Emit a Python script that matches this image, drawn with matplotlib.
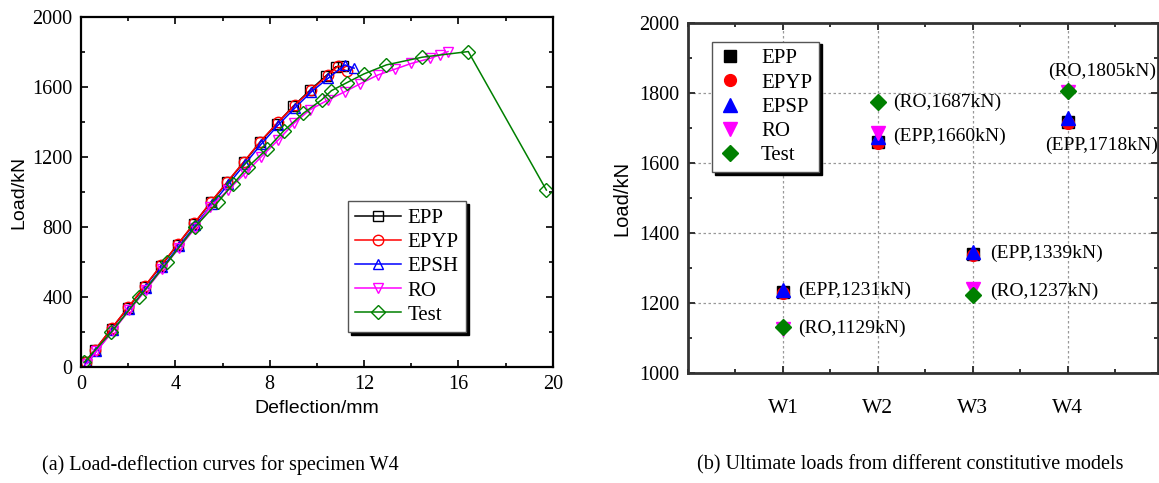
import numpy as np
import matplotlib
matplotlib.use("Agg")
import matplotlib.pyplot as plt
from matplotlib.ticker import MultipleLocator

plt.rcParams['font.family'] = ['Liberation Serif', 'DejaVu Serif']

# (a) load-deflection curves, specimen W4
epp_d = [0.2, 0.6, 1.3, 2.0, 2.7, 3.4, 4.1, 4.8, 5.5, 6.2, 6.9, 7.6, 8.3, 9.0, 9.7, 10.4, 10.8, 11.1]
epp_L = [30, 100, 220, 340, 460, 580, 700, 820, 940, 1055, 1170, 1285, 1390, 1490, 1580, 1665, 1715, 1718]
epyp_d = [0.2, 0.6, 1.3, 2.0, 2.7, 3.4, 4.1, 4.8, 5.5, 6.2, 6.9, 7.6, 8.36, 9.07, 9.77, 10.48, 10.9, 11.26]
epyp_L = [30, 100, 222, 342, 462, 582, 702, 822, 942, 1058, 1172, 1288, 1400, 1497, 1583, 1669, 1720, 1690]
epsh_d = [0.25, 0.65, 1.35, 2.05, 2.75, 3.45, 4.15, 4.85, 5.55, 6.25, 6.95, 7.65, 8.36, 9.07, 9.77, 10.48, 11.19, 11.58]
epsh_L = [20, 90, 210, 330, 450, 570, 690, 810, 930, 1045, 1160, 1275, 1383, 1480, 1573, 1650, 1726, 1707]
ro_d = [0.25, 0.65, 1.35, 2.05, 2.75, 3.45, 4.15, 4.85, 5.47, 6.24, 6.95, 7.65, 8.36, 9.05, 9.7,
        10.48, 11.19, 11.82, 12.6, 13.3, 14.0, 14.8, 15.2, 15.56]
ro_L = [20, 90, 205, 325, 440, 560, 680, 795, 916, 1011, 1106, 1202, 1297, 1395, 1469,
        1526, 1573, 1617, 1669, 1701, 1734, 1763, 1783, 1802]
test_d = [0.13, 1.28, 2.46, 3.66, 4.82, 5.82, 6.45, 7.09, 7.87, 8.6, 9.42, 10.2, 10.62,
          11.28, 11.99, 12.95, 14.47, 16.42, 19.73]
test_L = [27, 198, 398, 598, 798, 945, 1046, 1145, 1243, 1350, 1449, 1526, 1579,
          1625, 1674, 1726, 1770, 1802, 1011]

# (b) ultimate loads
specimens = ['W1', 'W2', 'W3', 'W4']
ult_epp = [1231, 1660, 1339, 1718]
ult_epyp = [1228, 1657, 1336, 1714]
ult_epsp = [1236, 1675, 1345, 1728]
ult_ro = [1127, 1687, 1239, 1804]
ult_test = [1132, 1775, 1223, 1806]
notes = ['(EPP,1231kN)', '(RO,1129kN)', '(RO,1687kN)', '(EPP,1660kN)',
         '(EPP,1339kN)', '(RO,1237kN)', '(RO,1805kN)', '(EPP,1718kN)']
note_xy = [(1.16, 1237), (1.16, 1129), (2.16, 1774), (2.16, 1677),
           (3.18, 1343), (3.18, 1234), (4.36, 1861), (4.36, 1651)]
note_ha = ['left', 'left', 'left', 'left', 'left', 'left', 'center', 'center']

fig = plt.figure(figsize=(11.59, 4.83), dpi=100)
ax1 = fig.add_axes([0.0699, 0.240, 0.407, 0.725])
ax2 = fig.add_axes([0.5936, 0.2277, 0.4055, 0.7246])

fs = 14.5
sans = ['Liberation Sans', 'DejaVu Sans']

# ---- left ----
mk = dict(markersize=7.5, markerfacecolor='none', markeredgewidth=1.0, linewidth=1.1)
ax1.plot(epp_d, epp_L, 's-', color='black', label='EPP', **mk)
ax1.plot(epyp_d, epyp_L, 'o-', color='red', label='EPYP', **mk)
ax1.plot(epsh_d, epsh_L, '^-', color='blue', label='EPSH', **mk)
ax1.plot(ro_d, ro_L, 'v-', color='magenta', label='RO', **mk)
ax1.plot(test_d, test_L, 'D-', color='#008000', label='Test', **mk)
ax1.set_xlim(0, 20)
ax1.set_ylim(0, 2000)
ax1.xaxis.set_major_locator(MultipleLocator(4))
ax1.xaxis.set_minor_locator(MultipleLocator(2))
ax1.yaxis.set_major_locator(MultipleLocator(400))
ax1.yaxis.set_minor_locator(MultipleLocator(200))
ax1.tick_params(which='both', direction='in', top=True, right=True, labelsize=fs)
ax1.tick_params(which='major', length=5, width=1.2, pad=6)
ax1.tick_params(which='minor', length=3, width=1.2)
for s in ax1.spines.values():
    s.set_linewidth(1.6)
ax1.set_xlabel('Deflection/mm', fontsize=14, family=sans, labelpad=4)
ax1.set_ylabel('Load/kN', fontsize=14, family=sans, labelpad=4)
leg1 = ax1.legend(loc='lower left', bbox_to_anchor=(0.566, 0.1), fontsize=15,
                  frameon=True, fancybox=False, framealpha=1, edgecolor='#555555',
                  shadow={'color': 'black', 'alpha': 1}, handlelength=2.2,
                  labelspacing=0.22, borderpad=0.35, handletextpad=0.3,
                  borderaxespad=0)
leg1.get_frame().set_linewidth(1.0)

# ---- right ----
x = np.arange(1, len(specimens) + 1)
ax2.plot(x, ult_epp, 's', color='black', markersize=8, label='EPP', zorder=3)
ax2.plot(x, ult_epyp, 'o', color='red', markersize=8.5, label='EPYP', zorder=3)
ax2.plot(x, ult_epsp, '^', color='blue', markersize=9.5, label='EPSP', zorder=3)
ax2.plot(x, ult_ro, 'v', color='magenta', markersize=9.5, label='RO', zorder=3)
ax2.plot(x, ult_test, 'D', color='#008000', markersize=8, label='Test', zorder=3)
for t, (px, py), ha in zip(notes, note_xy, note_ha):
    ax2.text(px, py, t, fontsize=14, ha=ha, va='center')
ax2.set_xlim(0, 4.95)
ax2.set_ylim(1000, 2000)
ax2.set_xticks(x)
ax2.set_xticklabels(specimens)
ax2.xaxis.set_minor_locator(MultipleLocator(0.5))
ax2.yaxis.set_major_locator(MultipleLocator(200))
ax2.yaxis.set_minor_locator(MultipleLocator(100))
ax2.grid(True, which='major', linestyle=(0, (2, 2)), color='#999999', linewidth=0.9)
ax2.set_axisbelow(True)
ax2.tick_params(which='both', direction='in', top=True, right=True, labelsize=fs,
                color='#333333')
ax2.tick_params(which='major', length=5, width=1.4)
ax2.tick_params(which='minor', length=3, width=1.4)
ax2.tick_params(axis='x', which='major', labelsize=15.5, pad=19)
ax2.tick_params(axis='y', which='major', pad=6)
for s in ax2.spines.values():
    s.set_linewidth(2.0)
    s.set_color('#333333')
ax2.set_ylabel('Load/kN', fontsize=14.5, family=sans, labelpad=6)
leg2 = ax2.legend(loc='upper left', bbox_to_anchor=(0.051, 0.947), fontsize=15,
                  frameon=True, fancybox=False, framealpha=1, edgecolor='#555555',
                  shadow={'color': 'black', 'alpha': 1}, handlelength=1.0,
                  labelspacing=0.22, borderpad=0.35, handletextpad=1.0,
                  borderaxespad=0)
leg2.get_frame().set_linewidth(1.0)

fig.text(0.19, 0.038, '(a) Load-deflection curves for specimen W4', fontsize=14.5,
         ha='center', va='center')
fig.text(0.785, 0.038, '(b) Ultimate loads from different constitutive models',
         fontsize=14.5, ha='center', va='center')

fig.savefig('out.png', dpi=100)
